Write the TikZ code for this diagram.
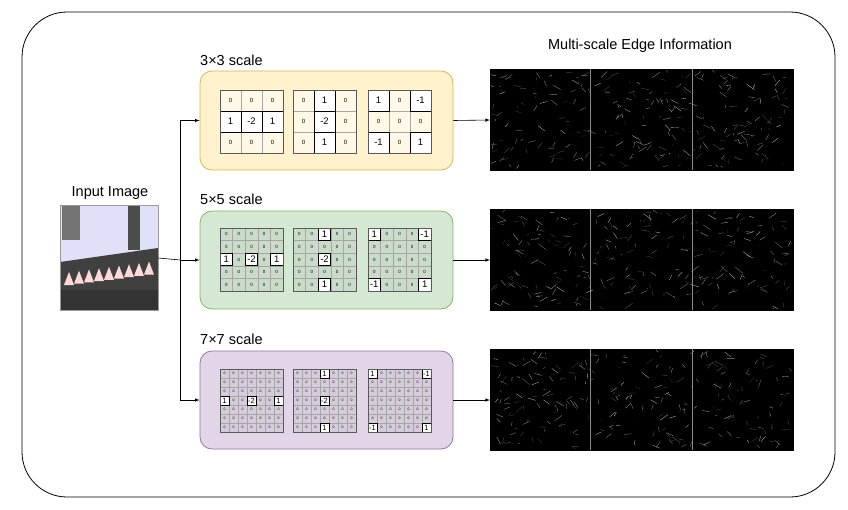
\documentclass[tikz,border=0pt]{standalone}
\usepackage{fontspec}
\setmainfont{Liberation Sans}
\begin{document}
\begin{tikzpicture}[x=1pt,y=-1pt,
  box/.style={rounded corners=12pt, line width=0.8pt},
  lbl/.style={font=\fontsize{14.5}{16}\selectfont, anchor=west, inner sep=0},
  arr/.style={-latex, line width=0.6pt},
  zc/.style={draw=black!35, line width=0.4pt, inner sep=0, outer sep=0},
  nz/.style={draw=black, line width=0.8pt, fill=white, inner sep=0, outer sep=0}]
\definecolor{yf}{HTML}{FFF2CC}\definecolor{ys}{HTML}{D6B656}
\definecolor{gf}{HTML}{D5E8D4}\definecolor{gs}{HTML}{82B366}
\definecolor{pf}{HTML}{E1D5E7}\definecolor{ps}{HTML}{9673A6}
\newcommand\kgrid[8]{% x0 y0 n cell zerofill zerofont nzfont list
  \foreach \i/\j/\v in {#8}{\expandafter\gdef\csname kz#1-#2-\i-\j\endcsname{}}
  \foreach \i in {1,...,#3}{\foreach \j in {1,...,#3}{
    \ifcsname kz#1-#2-\i-\j\endcsname\else
    \node[zc, minimum size=#4pt, fill=#5, font=#6] at ({#1+(\i-0.5)*#4},{#2+(\j-0.5)*#4}) {0};\fi}}
  \foreach \i/\j/\v in {#8}{
    \node[nz, minimum size=#4pt, font=#7] at ({#1+(\i-0.5)*#4},{#2+(\j-0.5)*#4}) {\v};}
  \draw[black!65, line width=0.9pt] (#1,#2) rectangle ({#1+#3*#4},{#2+#3*#4});
}
\newcommand\edgeimg[2]{% x0 y0
  \draw[fill=black] (#1,#2) rectangle ({#1+303},{#2+101});
  \pgfmathsetseed{#2}
  \foreach \k in {1,...,260}{
    \pgfmathsetmacro\ax{#1+3+rnd*297}\pgfmathsetmacro\ay{#2+3+rnd*95}
    \pgfmathsetmacro\bx{\ax+(rnd-0.5)*16}\pgfmathsetmacro\by{\ay+(rnd-0.5)*12}
    \pgfmathsetmacro\g{20+rnd*55}
    \draw[white!\g!black, line width=0.35pt] (\ax,\ay) -- ({min(max(\bx,#1+1),#1+302)},{min(max(\by,#2+1),#2+100)});}
  \draw[white!55!black, line width=0.8pt] ({#1+100},#2) -- ({#1+100},{#2+101});
  \draw[white!55!black, line width=0.8pt] ({#1+202},#2) -- ({#1+202},{#2+101});
}
\useasboundingbox (0,0) rectangle (848,509);
\draw[line width=0.8pt, rounded corners=45pt] (22,12) rectangle (835,497);

% input image
\node[lbl, anchor=center] (inl) at (110,193) {Input Image};
\node[minimum width=98pt, minimum height=105pt, inner sep=0, fill=black!20!blue!12!white] (inp) at (109,258) {};
\fill[black!55] (62,206) rectangle (80,240);
\fill[black!70] (128,206) rectangle (140,250);
\fill[black!75] (60,262) -- (158,248) -- (158,290) -- (60,300) -- cycle;
\foreach \t in {0,...,8}{\fill[white!85!red] ({64+\t*10},{285-\t*1.3}) -- ({69+\t*10},{272-\t*1.3}) -- ({74+\t*10},{285-\t*1.3}) -- cycle;}
\fill[black!80] (60,290) rectangle (158,310);
\draw[black!40] (60,205) rectangle (158,310);

% boxes
\node[lbl] (t3) at (200,60) {3×3 scale};
\node[lbl] (t5) at (200,199) {5×5 scale};
\node[lbl] (t7) at (200,339) {7×7 scale};
\node[box, draw=ys, fill=yf, minimum width=253pt, minimum height=99pt, inner sep=0] (b3) at (326.5,120.5) {};
\node[box, draw=gs, fill=gf, minimum width=253pt, minimum height=98pt, inner sep=0] (b5) at (326.5,260) {};
\node[box, draw=ps, fill=pf, minimum width=253pt, minimum height=98pt, inner sep=0] (b7) at (326.5,400) {};

% 3x3 kernels
\def\fa{\fontsize{6}{6}\selectfont}\def\fb{\fontsize{9.5}{9.5}\selectfont}
\kgrid{220}{90}{3}{21}{yf!50!white}{\fa}{\fb}{1/2/1,2/2/-2,3/2/1}
\kgrid{293}{90}{3}{21}{yf!50!white}{\fa}{\fb}{2/1/1,2/2/-2,2/3/1}
\kgrid{368}{90}{3}{21}{yf!50!white}{\fa}{\fb}{1/1/1,3/1/-1,1/3/-1,3/3/1}
% 5x5 kernels
\def\fa{\fontsize{4.5}{4.5}\selectfont}\def\fb{\fontsize{9.5}{9.5}\selectfont}
\kgrid{220}{228}{5}{12.6}{gf!88!gray}{\fa}{\fb}{1/3/1,3/3/-2,5/3/1}
\kgrid{293}{228}{5}{12.6}{gf!88!gray}{\fa}{\fb}{3/1/1,3/3/-2,3/5/1}
\kgrid{368}{228}{5}{12.6}{gf!88!gray}{\fa}{\fb}{1/1/1,5/1/-1,1/5/-1,5/5/1}
% 7x7 kernels
\def\fa{\fontsize{3.5}{3.5}\selectfont}\def\fb{\fontsize{7.5}{7.5}\selectfont}
\kgrid{220}{369}{7}{9}{pf!88!gray}{\fa}{\fb}{1/4/1,4/4/-2,7/4/1}
\kgrid{293}{369}{7}{9}{pf!88!gray}{\fa}{\fb}{4/1/1,4/4/-2,4/7/1}
\kgrid{368}{369}{7}{9}{pf!88!gray}{\fa}{\fb}{1/1/1,7/1/-1,1/7/-1,7/7/1}

% edge images
\node[lbl, anchor=center] (te) at (640,46) {Multi-scale Edge Information};
\edgeimg{490}{69}
\edgeimg{490}{209}
\edgeimg{490}{349}
\coordinate (e3) at (490,120);
\coordinate (e5) at (490,260);
\coordinate (e7) at (490,400);
\coordinate (sp) at (180,260);

% connectors
\draw[line width=0.6pt] (inp.east) -- (sp);
\draw[arr] (sp) |- (b3.west);
\draw[arr] (sp) -- (b5.west);
\draw[arr] (sp) |- (b7.west);
\draw[arr] (b3.east) -- (e3);
\draw[arr] (b5.east) -- (e5);
\draw[arr] (b7.east) -- (e7);
\end{tikzpicture}
\end{document}
